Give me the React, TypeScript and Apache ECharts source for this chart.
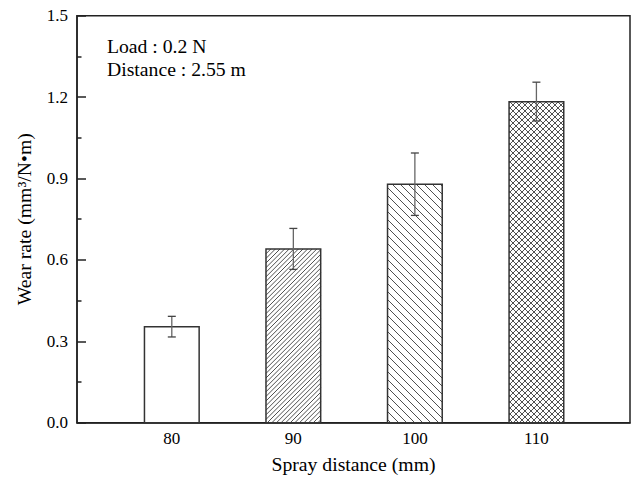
import React, { useEffect, useRef } from "react";
import * as echarts from "echarts";

// ---- data ----
const sprayDistance = [80, 90, 100, 110];
const wearRate = [0.354, 0.64, 0.879, 1.183];
const errLow = [0.316, 0.565, 0.764, 1.112];
const errHigh = [0.392, 0.716, 0.994, 1.255];
const yTickStep = 0.3;

const FONT = "Liberation Serif";
// hatch style per bar (order matches sprayDistance)
const hatch: { kind: string; step: number }[] = [
  { kind: "none", step: 0 },
  { kind: "fwd", step: 4.6 },
  { kind: "back", step: 8 },
  { kind: "cross", step: 6 },
];

function hatchLines(kind: string, step: number, x0: number, x1: number, y0: number, y1: number) {
  const out: any[] = [];
  const style = { stroke: "#505050", lineWidth: 1 };
  if (kind === "fwd" || kind === "cross") {
    // x + y = c  ("/")
    const cMin = Math.ceil((x0 + y0) / step) * step;
    for (let c = cMin; c <= x1 + y1; c += step) {
      const lo = Math.max(x0, c - y1);
      const hi = Math.min(x1, c - y0);
      if (hi - lo > 0.3) out.push({ type: "line", shape: { x1: lo, y1: c - lo, x2: hi, y2: c - hi }, style, silent: true });
    }
  }
  if (kind === "back" || kind === "cross") {
    // y - x = c  ("\")
    const cMin = Math.ceil((y0 - x1) / step) * step;
    for (let c = cMin; c <= y1 - x0; c += step) {
      const lo = Math.max(x0, y0 - c);
      const hi = Math.min(x1, y1 - c);
      if (hi - lo > 0.3) out.push({ type: "line", shape: { x1: lo, y1: lo + c, x2: hi, y2: hi + c }, style, silent: true });
    }
  }
  return out;
}

export default function App() {
  const ref = useRef<HTMLDivElement>(null);
  useEffect(() => {
    document.body.style.margin = "0";
    if (!ref.current) return;
    const chart = echarts.init(ref.current, null, { renderer: "svg" });
    const barUnits = 4.5;
    const option: any = {
      animation: false,
      backgroundColor: "#fff",
      grid: {
        left: 77,
        right: 1,
        top: 15.7,
        bottom: 58.3,
        show: true,
        borderColor: "#222",
        borderWidth: 1.5,
      },
      xAxis: {
        type: "value",
        min: 72.2,
        max: 117.7,
        axisLine: { show: true, lineStyle: { color: "#222", width: 1.5 } },
        axisTick: { show: false },
        splitLine: { show: false },
        axisLabel: {
          customValues: sprayDistance,
          fontSize: 17,
          fontFamily: FONT,
          color: "#000",
          margin: 7,
        },
        name: "Spray distance (mm)",
        nameLocation: "middle",
        nameGap: 31,
        nameTextStyle: { fontSize: 19.7, fontFamily: FONT, color: "#000" },
      },
      yAxis: {
        type: "value",
        min: 0,
        max: 1.5,
        interval: yTickStep,
        axisLine: { show: true, lineStyle: { color: "#222", width: 1.5 } },
        axisTick: { show: true, inside: true, length: 9, lineStyle: { color: "#222", width: 1.5 } },
        minorTick: { show: true, splitNumber: 2, length: 4.5, lineStyle: { color: "#222", width: 1.5 } },
        splitLine: { show: false },
        minorSplitLine: { show: false },
        axisLabel: {
          formatter: (v: number) => v.toFixed(1),
          fontSize: 17,
          fontFamily: FONT,
          color: "#000",
          margin: 9,
        },
        name: "Wear rate (mm³/N•m)",
        nameLocation: "middle",
        nameGap: 43,
        nameTextStyle: { fontSize: 19.7, fontFamily: FONT, color: "#000" },
      },
      graphic: [
        {
          type: "text",
          left: 107,
          top: 35,
          style: {
            text: "Load : 0.2 N\nDistance : 2.55 m",
            fontSize: 19.7,
            fontFamily: FONT,
            fill: "#000",
            lineHeight: 22.5,
          },
        },
      ],
      series: [
        {
          type: "custom",
          dimensions: ["x", "y"],
          encode: { x: 0, y: 1 },
          data: sprayDistance.map((d, i) => [d, wearRate[i]]),
          renderItem: (params: any, api: any) => {
            const x = api.value(0);
            const y = api.value(1);
            const top = api.coord([x, y]);
            const base = api.coord([x, 0]);
            const w = api.size([barUnits, 0])[0];
            const x0 = top[0] - w / 2;
            const x1 = top[0] + w / 2;
            const y0 = top[1];
            const y1 = base[1];
            const h = hatch[params.dataIndex];
            return {
              type: "group",
              children: [
                { type: "rect", shape: { x: x0, y: y0, width: w, height: y1 - y0 }, style: { fill: "#fff" } },
                ...hatchLines(h.kind, h.step, x0, x1, y0, y1),
                {
                  type: "rect",
                  shape: { x: x0, y: y0, width: w, height: y1 - y0 },
                  style: { fill: "none", stroke: "#333", lineWidth: 1.5 },
                },
              ],
            };
          },
          z: 2,
        },
        {
          type: "custom",
          dimensions: ["x", "lo", "hi"],
          encode: { x: 0, y: [1, 2] },
          data: sprayDistance.map((d, i) => [d, errLow[i], errHigh[i]]),
          renderItem: (params: any, api: any) => {
            const x = api.value(0);
            const lo = api.coord([x, api.value(1)]);
            const hi = api.coord([x, api.value(2)]);
            const cap = 4;
            const st = { stroke: "#444", lineWidth: 1.3 };
            return {
              type: "group",
              children: [
                { type: "line", shape: { x1: lo[0], y1: lo[1], x2: hi[0], y2: hi[1] }, style: { stroke: "#666", lineWidth: 1.3 } },
                { type: "line", shape: { x1: hi[0] - cap, y1: hi[1], x2: hi[0] + cap, y2: hi[1] }, style: st },
                { type: "line", shape: { x1: lo[0] - cap, y1: lo[1], x2: lo[0] + cap, y2: lo[1] }, style: st },
              ],
            };
          },
          z: 3,
        },
      ],
    };
    chart.setOption(option);
    return () => chart.dispose();
  }, []);
  return <div ref={ref} style={{ width: 631, height: 481, position: "absolute", left: 0, top: 0 }} />;
}
